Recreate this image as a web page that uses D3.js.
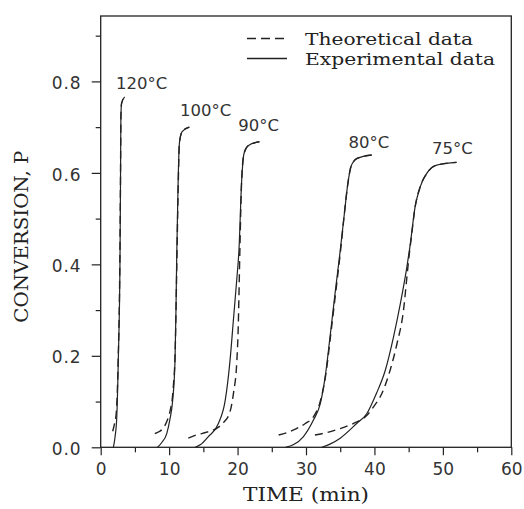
<!DOCTYPE html>
<html>
<head>
<meta charset="utf-8">
<script src="https://cdn.jsdelivr.net/npm/d3@7"></script>
<style>
  body { margin: 0; background: #fff; }
  svg { display: block; }
</style>
</head>
<body>
<svg></svg>
<script>
const width = 524;
const height = 509;

// data: [time (min), conversion P]
const exp120 = [[1.85,0],[2.1,0.023],[2.35,0.067],[2.57,0.19],[2.82,0.41],[2.9,0.6],[2.95,0.72],[3.05,0.752],[3.5,0.766]];
const theo120 = [[1.75,0.035],[2.0,0.05],[2.3,0.08],[2.55,0.19],[2.8,0.41],[2.9,0.6],[2.95,0.72],[3.05,0.752],[3.5,0.766]];

const exp100 = [[8.3,0],[8.9,0.01],[9.65,0.03],[10.1,0.06],[10.5,0.10],[10.86,0.19],[11.0,0.30],[11.1,0.41],[11.3,0.57],[11.5,0.665],[11.9,0.69],[12.95,0.70]];
const theo100 = [[7.9,0.03],[8.5,0.034],[9.15,0.042],[9.7,0.058],[10.15,0.08],[10.6,0.13],[10.9,0.22],[11.1,0.38],[11.3,0.55],[11.5,0.665],[11.9,0.69],[12.95,0.70]];

const exp90 = [[13.8,0],[14.6,0.006],[15.7,0.023],[17.2,0.052],[18.2,0.103],[18.9,0.19],[19.4,0.28],[19.9,0.37],[20.2,0.43],[20.6,0.584],[20.95,0.643],[21.6,0.66],[23.2,0.668]];
const theo90 = [[12.8,0.02],[14.0,0.027],[15.5,0.033],[17.0,0.042],[18.0,0.055],[18.9,0.078],[19.4,0.118],[19.9,0.19],[20.1,0.264],[20.2,0.33],[20.35,0.44],[20.6,0.584],[20.95,0.643],[21.6,0.66],[23.2,0.668]];

const exp80 = [[27.0,0],[28.2,0.006],[29.6,0.023],[31.1,0.06],[32.1,0.096],[32.8,0.154],[33.5,0.24],[34.25,0.337],[35.0,0.43],[35.6,0.51],[36.1,0.575],[36.6,0.615],[37.5,0.632],[39.6,0.639]];
const theo80 = [[26.0,0.027],[27.2,0.032],[28.6,0.041],[29.9,0.052],[31.1,0.067],[32.0,0.096],[32.9,0.16],[33.6,0.245],[34.35,0.34],[35.05,0.43],[35.6,0.51],[36.1,0.575],[36.6,0.615],[37.5,0.632],[39.6,0.639]];

const exp75 = [[32.3,0],[33.5,0.007],[35.0,0.02],[37.4,0.052],[38.9,0.074],[40.3,0.118],[41.6,0.169],[42.8,0.242],[43.8,0.315],[44.75,0.395],[45.2,0.44],[45.95,0.526],[46.7,0.57],[47.7,0.6],[49.1,0.617],[52,0.623]];
const theo75 = [[31.3,0.027],[33.0,0.032],[35.0,0.041],[36.9,0.052],[38.9,0.07],[39.9,0.089],[41.1,0.118],[42.3,0.169],[43.3,0.227],[44.25,0.3],[44.75,0.373],[45.0,0.41],[45.4,0.46],[45.95,0.526],[46.7,0.57],[47.7,0.6],[49.1,0.617],[52,0.623]];

const tempLabels = ["120°C", "100°C", "90°C", "80°C", "75°C"];
const labelT = [2.25, 11.6, 20.1, 36.2, 48.4];
const labelP = [0.783, 0.724, 0.691, 0.654, 0.641];

const xMajor = [0, 10, 20, 30, 40, 50, 60];
const xMinor = [5, 15, 25, 35, 45, 55];
const yMajor = [0, 0.2, 0.4, 0.6, 0.8];
const yMinor = [0.1, 0.3, 0.5, 0.7, 0.9];

const legendNames = ["Theoretical data", "Experimental data"];

let svg = d3.select("svg")
    .attr("width", width)
    .attr("height", height);

const plotL = 100.7, plotR = 511.3, plotT = 16, plotB = 447.3;

let x = d3.scaleLinear().domain([0, 60]).range([plotL, plotR]);
let y = d3.scaleLinear().domain([0, 0.943]).range([plotB, plotT]);

const ink = "#222";
const tickFont = "'DejaVu Sans', sans-serif";
const serifFont = "'DejaVu Serif', 'Liberation Serif', serif";

// frame
svg.append("rect")
    .attr("x", plotL)
    .attr("y", plotT)
    .attr("width", plotR - plotL)
    .attr("height", plotB - plotT)
    .attr("fill", "none")
    .attr("stroke", ink)
    .attr("stroke-width", 1.3);

// x axis
let gx = svg.append("g")
    .attr("transform", `translate(0,${plotB})`)
    .call(d3.axisBottom(x).tickValues(xMajor).tickSize(8).tickPadding(7.6).tickFormat(d3.format("d")));
gx.append("g")
    .call(d3.axisBottom(x).tickValues(xMinor).tickSize(5).tickFormat(""));

// y axis
let gy = svg.append("g")
    .attr("transform", `translate(${plotL},0)`)
    .call(d3.axisLeft(y).tickValues(yMajor).tickSize(9).tickPadding(10).tickFormat(d3.format(".1f")));
gy.append("g")
    .call(d3.axisLeft(y).tickValues(yMinor).tickSize(5).tickFormat(""));

svg.selectAll(".domain").remove();
svg.selectAll(".tick line").attr("stroke", ink).attr("stroke-width", 1.2);
svg.selectAll(".tick text")
    .attr("fill", "#333")
    .style("font-family", tickFont)
    .style("font-size", "17px");
gy.selectAll(".tick text").attr("dy", "0.42em").style("letter-spacing", "1px");

// curves
const line = d3.line()
    .x(d => x(d[0]))
    .y(d => y(d[1]))
    .curve(d3.curveMonotoneX);

const curves = svg.append("g").attr("fill", "none").attr("stroke", ink);

[theo120, theo100, theo90, theo80, theo75].forEach(s => {
    curves.append("path")
        .attr("d", line(s))
        .attr("stroke-width", 1.4)
        .attr("stroke-dasharray", "8,5");
});

[exp120, exp100, exp90, exp80, exp75].forEach(s => {
    curves.append("path")
        .attr("d", line(s))
        .attr("stroke-width", 1.2);
});

// temperature labels
svg.append("g").selectAll("text")
    .data(tempLabels)
    .join("text")
    .attr("x", (d, i) => x(labelT[i]))
    .attr("y", (d, i) => y(labelP[i]))
    .attr("fill", "#333")
    .style("font-family", tickFont)
    .style("font-size", "16.5px")
    .text(d => d);

// legend
let legend = svg.append("g");
legendNames.forEach((name, i) => {
    const ly = 38.5 + i * 20;
    legend.append("line")
        .attr("x1", 247).attr("x2", 287)
        .attr("y1", ly).attr("y2", ly)
        .attr("stroke", ink)
        .attr("stroke-width", 1.3)
        .attr("stroke-dasharray", i === 0 ? "9,5" : null);
    legend.append("text")
        .attr("x", 305)
        .attr("y", ly + 6.5)
        .attr("textLength", i === 0 ? 168 : 190)
        .attr("lengthAdjust", "spacingAndGlyphs")
        .attr("fill", "#222")
        .style("font-family", serifFont)
        .style("font-size", "17px")
        .text(name);
});

// axis titles
svg.append("text")
    .attr("x", 306)
    .attr("y", 501)
    .attr("text-anchor", "middle")
    .attr("textLength", 126)
    .attr("lengthAdjust", "spacingAndGlyphs")
    .attr("fill", "#222")
    .style("font-family", serifFont)
    .style("font-size", "18px")
    .text("TIME (min)");

svg.append("text")
    .attr("transform", `translate(28,${(plotT + plotB) / 2 + 5}) rotate(-90)`)
    .attr("text-anchor", "middle")
    .attr("textLength", 172)
    .attr("lengthAdjust", "spacingAndGlyphs")
    .attr("fill", "#222")
    .style("font-family", serifFont)
    .style("font-size", "18px")
    .text("CONVERSION, P");
</script>
</body>
</html>
